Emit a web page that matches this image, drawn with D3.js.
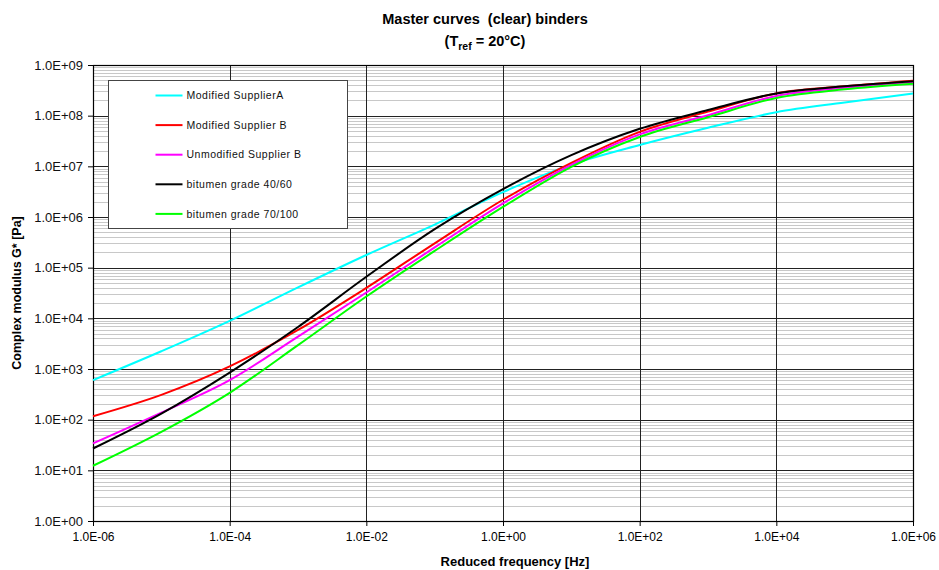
<!DOCTYPE html>
<html>
<head>
<meta charset="utf-8">
<script src="https://cdn.jsdelivr.net/npm/d3@7"></script>
<style>
  body { margin: 0; background: #fff; }
  text { font-family: "Liberation Sans", Arial, sans-serif; }
</style>
</head>
<body>
<svg id="chart" width="939" height="570"></svg>
<script>
// reduced frequency [Hz], one point per decade
var frequencies = [1e-6, 1e-5, 1e-4, 1e-3, 1e-2, 1e-1, 1e0, 1e1, 1e2, 1e3, 1e4, 1e5, 1e6]

// complex modulus G* [Pa]
var modifiedA   = [603, 2240, 8913, 40738, 177828, 707946, 3.10e6, 1.08e7, 2.63e7, 5.75e7, 1.17e8, 1.82e8, 2.75e8]
var modifiedB   = [117, 309, 1122, 5888, 39811, 3.02e5, 2.19e6, 1.17e7, 4.79e7, 1.20e8, 2.75e8, 3.80e8, 4.90e8]
var unmodifiedB = [34, 138, 603, 4365, 32359, 2.51e5, 1.86e6, 1.07e7, 4.27e7, 1.02e8, 2.45e8, 3.55e8, 4.57e8]
var grade4060   = [27, 132, 851, 6761, 66069, 5.75e5, 3.55e6, 1.66e7, 5.50e7, 1.29e8, 2.75e8, 3.80e8, 4.79e8]
var grade70100  = [12.3, 57.5, 339, 2951, 26915, 2.14e5, 1.58e6, 9.77e6, 3.80e7, 9.33e7, 2.24e8, 3.31e8, 4.27e8]

var seriesNames  = ["Modified SupplierA", "Modified Supplier B", "Unmodified Supplier B", "bitumen grade 40/60", "bitumen grade 70/100"]
var seriesColors = ["#00ffff", "#ff0000", "#ff00ff", "#000000", "#00ff00"]
var seriesValues = [modifiedA, modifiedB, unmodifiedB, grade4060, grade70100]

var xTicks = [1e-6, 1e-4, 1e-2, 1e0, 1e2, 1e4, 1e6]
var xTickLabels = ["1.0E-06", "1.0E-04", "1.0E-02", "1.0E+00", "1.0E+02", "1.0E+04", "1.0E+06"]
var yTicks = [1e0, 1e1, 1e2, 1e3, 1e4, 1e5, 1e6, 1e7, 1e8, 1e9]
var yTickLabels = ["1.0E+00", "1.0E+01", "1.0E+02", "1.0E+03", "1.0E+04", "1.0E+05", "1.0E+06", "1.0E+07", "1.0E+08", "1.0E+09"]

var margin = {left: 93, right: 26, top: 65, bottom: 49},
    width = 939 - margin.left - margin.right,
    height = 570 - margin.top - margin.bottom

var svg = d3.select("#chart")
var g = svg.append("g").attr("transform", "translate(" + margin.left + "," + margin.top + ")")

var x = d3.scaleLog().domain([1e-6, 1e6]).range([0, width])
var y = d3.scaleLog().domain([1e0, 1e9]).range([height, 0])

// minor horizontal grid (2..9 inside each decade)
var minor = []
yTicks.slice(0, -1).forEach(function(d) {
    for (var k = 2; k < 10; k++) minor.push(d * k)
})
g.selectAll(".minor").data(minor).enter().append("line")
    .attr("x1", 0).attr("x2", width)
    .attr("y1", function(d) { return Math.round(y(d)) + 0.5 })
    .attr("y2", function(d) { return Math.round(y(d)) + 0.5 })
    .attr("stroke", "#c8c8c8").attr("stroke-width", 1)

// major grid
g.selectAll(".hmajor").data(yTicks).enter().append("line")
    .attr("x1", 0).attr("x2", width)
    .attr("y1", function(d) { return Math.round(y(d)) + 0.5 })
    .attr("y2", function(d) { return Math.round(y(d)) + 0.5 })
    .attr("stroke", "#222").attr("stroke-width", 1)
g.selectAll(".vmajor").data(xTicks).enter().append("line")
    .attr("y1", 0).attr("y2", height)
    .attr("x1", function(d) { return Math.round(x(d)) + 0.5 })
    .attr("x2", function(d) { return Math.round(x(d)) + 0.5 })
    .attr("stroke", "#222").attr("stroke-width", 1)

// axes
var xAxis = d3.axisBottom(x).tickValues(xTicks).tickSize(5)
    .tickFormat(function(d, i) { return xTickLabels[i] })
var yAxis = d3.axisLeft(y).tickValues(yTicks).tickSize(5)
    .tickFormat(function(d, i) { return yTickLabels[i] })

var gx = g.append("g").attr("transform", "translate(0," + height + ")").call(xAxis)
var gy = g.append("g").call(yAxis)
gx.select(".domain").remove()
gy.select(".domain").remove()
gx.selectAll("text").attr("font-size", 12).attr("dy", "1.0em")
    .style("font-family", "'Liberation Sans Narrow', 'Arial Narrow', 'Liberation Sans', sans-serif")
gy.selectAll("text").attr("font-size", 13).attr("dy", "0.32em").attr("x", -10).attr("fill", "#111")

// plot frame
g.append("rect").attr("x", 0.5).attr("y", 0.5).attr("width", width).attr("height", height)
    .attr("fill", "none").attr("stroke", "#000").attr("stroke-width", 1.2)

// curves
var line = d3.line()
    .x(function(d, i) { return x(frequencies[i]) })
    .y(function(d) { return y(d) })
    .curve(d3.curveMonotoneX)

seriesValues.forEach(function(vals, i) {
    g.append("path").datum(vals)
        .attr("d", line)
        .attr("fill", "none")
        .attr("stroke", seriesColors[i])
        .attr("stroke-width", 2)
        .attr("stroke-linejoin", "round")
})

// legend
var legend = svg.append("g").attr("transform", "translate(108.5,80.5)")
legend.append("rect").attr("width", 239).attr("height", 148)
    .attr("fill", "#fff").attr("stroke", "#444").attr("stroke-width", 1)
seriesNames.forEach(function(name, i) {
    var row = legend.append("g").attr("transform", "translate(0," + (15 + i * 29.6) + ")")
    row.append("line").attr("x1", 47).attr("x2", 74).attr("y1", 0).attr("y2", 0)
        .attr("stroke", seriesColors[i]).attr("stroke-width", 2)
    row.append("text").attr("x", 78).attr("y", 0).attr("dy", "0.35em")
        .attr("font-size", 10.5).attr("letter-spacing", 0.5).attr("fill", "#111")
        .text(name)
})

// titles
var title = svg.append("text").attr("x", 485).attr("y", 24)
    .attr("text-anchor", "middle").attr("font-size", 14.5).attr("font-weight", "bold")
    .style("white-space", "pre")
    .text("Master curves  (clear) binders")
var sub = svg.append("text").attr("x", 485).attr("y", 46)
    .attr("text-anchor", "middle").attr("font-size", 14.5).attr("font-weight", "bold")
sub.append("tspan").text("(T")
sub.append("tspan").attr("font-size", 10.5).attr("dy", 4).text("ref")
sub.append("tspan").attr("dy", -4).text(" = 20°C)")

svg.append("text").attr("x", 515).attr("y", 566)
    .attr("text-anchor", "middle").attr("font-size", 13).attr("font-weight", "bold")
    .style("font-family", "'Liberation Sans Narrow', 'Arial Narrow', 'Liberation Sans', sans-serif")
    .text("Reduced frequency [Hz]")

svg.append("text")
    .attr("transform", "translate(21,293) rotate(-90)")
    .attr("text-anchor", "middle").attr("font-size", 12.5).attr("font-weight", "bold")
    .text("Complex modulus G* [Pa]")
</script>
</body>
</html>
